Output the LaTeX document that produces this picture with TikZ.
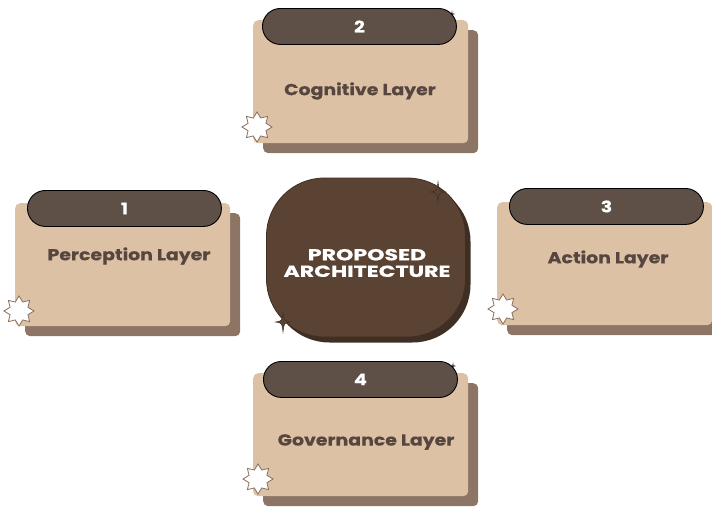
\documentclass[tikz,border=0pt]{standalone}
\usepackage{fontspec}
\setmainfont{Poppins}
\newfontfamily\widefont{Poppins}[FakeStretch=1.38, FakeBold=0.6]
\newfontfamily\labelfont{Poppins}[FakeStretch=1.18, FakeBold=0.3]
\usetikzlibrary{shapes.geometric}

\definecolor{cardfill}{HTML}{DCC1A5}
\definecolor{cardshade}{HTML}{8D7565}
\definecolor{pillfill}{HTML}{5E4F47}
\definecolor{labelink}{HTML}{56463F}
\definecolor{hubfill}{HTML}{5B4333}
\definecolor{hubshade}{HTML}{3F2E24}
\definecolor{burstline}{HTML}{8A6E5C}

\tikzset{
  cardbox/.style={rectangle, rounded corners=5pt, fill=cardfill, draw=none,
    minimum width=215pt, minimum height=123pt, inner sep=0pt, anchor=north west},
  cardshadow/.style={cardbox, fill=cardshade},
  pill/.style={rectangle, rounded corners=18pt, fill=pillfill, draw=black, line width=0.9pt,
    minimum width=194pt, minimum height=36pt, inner sep=0pt, anchor=north west,
    text=white, font=\labelfont\fontsize{16}{16}\selectfont\bfseries},
  layerlabel/.style={text=labelink, font=\labelfont\fontsize{16}{16}\selectfont\bfseries, inner sep=0pt},
  burst/.style={star, star points=8, star point ratio=1.55, minimum size=30pt, inner sep=0pt,
    fill=white, draw=burstline, line width=0.8pt},
  hub/.style={rectangle, rounded corners=58pt, fill=hubfill, draw=hubshade, line width=0.8pt,
    minimum width=199pt, minimum height=159pt, inner sep=0pt},
  hubtext/.style={align=center, text=white, inner sep=0pt,
    font=\widefont\fontsize{16}{16.5}\selectfont\bfseries},
  sparkle/.pic={
    \filldraw[fill=hubfill, draw=hubshade, line width=0.5pt]
      (0,-10) .. controls (1,-1) .. (7.5,0) .. controls (1,1) .. (0,10)
      .. controls (-1,1) .. (-7.5,0) .. controls (-1,-1) .. cycle;
  },
  tinysparkle/.pic={
    \fill[pillfill] (0,-4) .. controls (0.5,-0.5) .. (3,0) .. controls (0.5,0.5) .. (0,4)
      .. controls (-0.5,0.5) .. (-3,0) .. controls (-0.5,-0.5) .. cycle;
  }
}

\begin{document}
\begin{tikzpicture}[x=1pt,y=-1pt]
\useasboundingbox (0,0) rectangle (712,506);

% ---- layer 2 (top) ----
\node[cardshadow] (c2s) at (263,30) {};
\node[cardbox] (c2) at (253,20) {};
\pic at (452,14) {tinysparkle};
\node[pill] (p2) at (262,8) {2};
\node[layerlabel] (t2) at (360,91) {Cognitive Layer};
\node[burst] (b2) at (257,127) {};

% ---- layer 1 (left) ----
\node[cardshadow] (c1s) at (25,213) {};
\node[cardbox] (c1) at (15,203) {};
\node[pill] (p1) at (27,190) {1};
\node[layerlabel] (t1) at (129,256) {Perception Layer};
\node[burst] (b1) at (19,311) {};

% ---- layer 3 (right) ----
\node[cardshadow] (c3s) at (507,212) {};
\node[cardbox] (c3) at (497,202) {};
\node[pill] (p3) at (509,188) {3};
\node[layerlabel] (t3) at (608,259) {Action Layer};
\node[burst] (b3) at (503,309) {};

% ---- layer 4 (bottom) ----
\node[cardshadow] (c4s) at (263,383) {};
\node[cardbox] (c4) at (253,373) {};
\pic at (453,366) {tinysparkle};
\node[pill] (p4) at (263,361) {4};
\node[layerlabel] (t4) at (366,442) {Governance Layer};
\node[burst] (b4) at (258,479) {};

% ---- central hub ----
\node[hub, fill=hubshade, draw=none] (hubs) at (371,263) {};
\node[hub] (hub) at (366,257.5) {};
\node[hubtext] (hubt) at (367,263) {PROPOSED\\ARCHITECTURE};
\pic at (438,192) {sparkle};
\pic at (283,322) {sparkle};

\end{tikzpicture}
\end{document}
